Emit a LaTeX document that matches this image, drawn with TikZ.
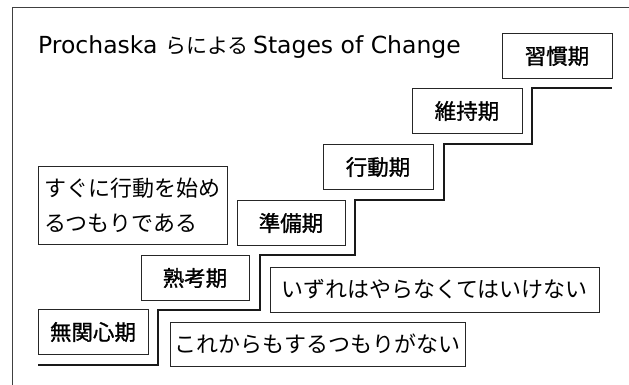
\documentclass[tikz,border=0pt]{standalone}
\usepackage{fontspec}
\newfontfamily\cjk{Noto Sans CJK JP}
\newfontfamily\cjkb{Noto Sans CJK JP}[FakeBold=1.2]
\newfontfamily\latin{DejaVu Sans}
\begin{document}
\begin{tikzpicture}[x=1pt,y=-1pt,
  stagebox/.style={draw=black!85,line width=0.9pt,minimum width=110pt,minimum height=45pt,inner sep=0pt,
    font=\cjkb\fontsize{21.5}{25}\selectfont},
  notebox/.style={draw=black!85,line width=0.9pt,inner sep=0pt,
    font=\cjk\fontsize{22}{35}\selectfont},
  stair/.style={draw=black!90,line width=1.3pt},
  frameline/.style={draw=black!75,line width=0.8pt}]
\useasboundingbox (0,0) rectangle (629,385);
% frame
\coordinate (fr) at (629,7);
\coordinate (fc) at (12,7);
\coordinate (fb) at (12,385);
\draw[frameline] (fr) -- (fc) -- (fb);
% title
\node[anchor=base west,inner sep=0pt] (title) at (38,54)
  {\latin\fontsize{23.5}{28}\selectfont Prochaska \cjk\fontsize{21}{28}\selectfont らによる \latin\fontsize{23.5}{28}\selectfont Stages of Change};
% staircase
\draw[stair] (38,365) -- (158,365) -- (158,310) -- (260,310) -- (260,255) -- (355,255)
  -- (355,200) -- (444,200) -- (444,144) -- (532,144) -- (532,88) -- (612,88);
% stages
\node[stagebox] (s1) at (93,332) {無関心期};
\node[stagebox,minimum width=108pt] (s2) at (195,278) {熟考期};
\node[stagebox,minimum width=108pt] (s3) at (291,223) {準備期};
\node[stagebox] (s4) at (378,167) {行動期};
\node[stagebox] (s5) at (467,111) {維持期};
\node[stagebox] (s6) at (557,56) {習慣期};
% notes
\node[notebox,minimum width=189pt,minimum height=78pt,align=left] (n1) at (132.5,205)
  {すぐに行動を始め\\るつもりである};
\node[notebox,minimum width=329pt,minimum height=45pt] (n2) at (434.5,289.5)
  {いずれはやらなくてはいけない};
\node[notebox,minimum width=295pt,minimum height=44pt] (n3) at (317.5,344)
  {これからもするつもりがない};
\end{tikzpicture}
\end{document}
